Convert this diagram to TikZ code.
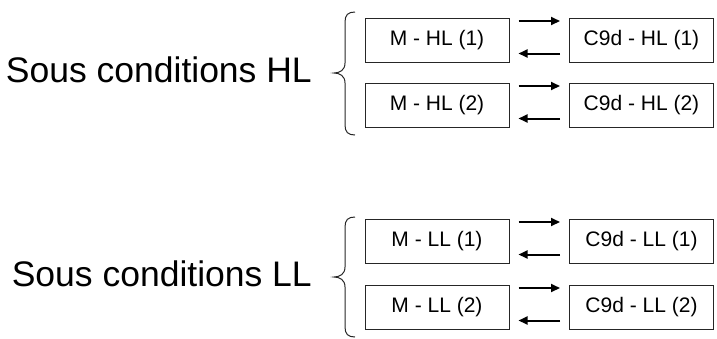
\documentclass[tikz,border=0pt]{standalone}
\usepackage{fontspec}
\setmainfont{Liberation Sans}
\usetikzlibrary{arrows.meta}
\begin{document}
\begin{tikzpicture}[x=1pt,y=-1pt,
  box/.style={draw=black!85,line width=1pt,minimum width=144pt,minimum height=44pt,inner sep=0pt,font=\fontsize{21}{24}\selectfont},
  lbl/.style={anchor=base east,inner sep=0pt,font=\fontsize{35.5}{42}\selectfont},
  arr/.style={line width=2pt,-{Triangle[length=9pt,width=8pt]}},
  brc/.style={draw=black!85,line width=1pt}]
\useasboundingbox (0,0) rectangle (717,338);
% HL group
\node[lbl] (lhl) at (312,82) {Sous conditions HL};
\node[box] (m1) at (437,40) {M - HL (1)};
\node[box] (c1) at (641.5,40) {C9d - HL (1)};
\node[box] (m2) at (437,105) {M - HL (2)};
\node[box] (c2) at (641.5,105) {C9d - HL (2)};
\draw[arr] ([yshift=-3.5pt,xshift=9pt]m1.north east) -- ([yshift=-3.5pt,xshift=-9pt]c1.north west);
\draw[arr] ([yshift=9pt,xshift=-9pt]c1.south west) -- ([yshift=9pt,xshift=9pt]m1.south east);
\draw[arr] ([yshift=-3.5pt,xshift=9pt]m2.north east) -- ([yshift=-3.5pt,xshift=-9pt]c2.north west);
\draw[arr] ([yshift=9pt,xshift=-9pt]c2.south west) -- ([yshift=9pt,xshift=9pt]m2.south east);
\draw[brc] (355,12) .. controls (348,12) and (345,15) .. (345,22) -- (345,63)
  .. controls (345,70) and (340,73) .. (334,73)
  .. controls (340,73) and (345,76) .. (345,83) -- (345,125)
  .. controls (345,132) and (348,135) .. (355,135);
% LL group
\node[lbl] (lll) at (312,286) {Sous conditions LL};
\node[box] (m3) at (437,241) {M - LL (1)};
\node[box] (c3) at (641.5,241) {C9d - LL (1)};
\node[box] (m4) at (437,307) {M - LL (2)};
\node[box] (c4) at (641.5,307) {C9d - LL (2)};
\draw[arr] ([yshift=-3.5pt,xshift=9pt]m3.north east) -- ([yshift=-3.5pt,xshift=-9pt]c3.north west);
\draw[arr] ([yshift=9pt,xshift=-9pt]c3.south west) -- ([yshift=9pt,xshift=9pt]m3.south east);
\draw[arr] ([yshift=-3.5pt,xshift=9pt]m4.north east) -- ([yshift=-3.5pt,xshift=-9pt]c4.north west);
\draw[arr] ([yshift=9pt,xshift=-9pt]c4.south west) -- ([yshift=9pt,xshift=9pt]m4.south east);
\draw[brc] (355,217) .. controls (348,217) and (345,220) .. (345,227) -- (345,267)
  .. controls (345,274) and (340,277) .. (334,277)
  .. controls (340,277) and (345,280) .. (345,287) -- (345,327)
  .. controls (345,334) and (348,337) .. (355,337);
\end{tikzpicture}
\end{document}
